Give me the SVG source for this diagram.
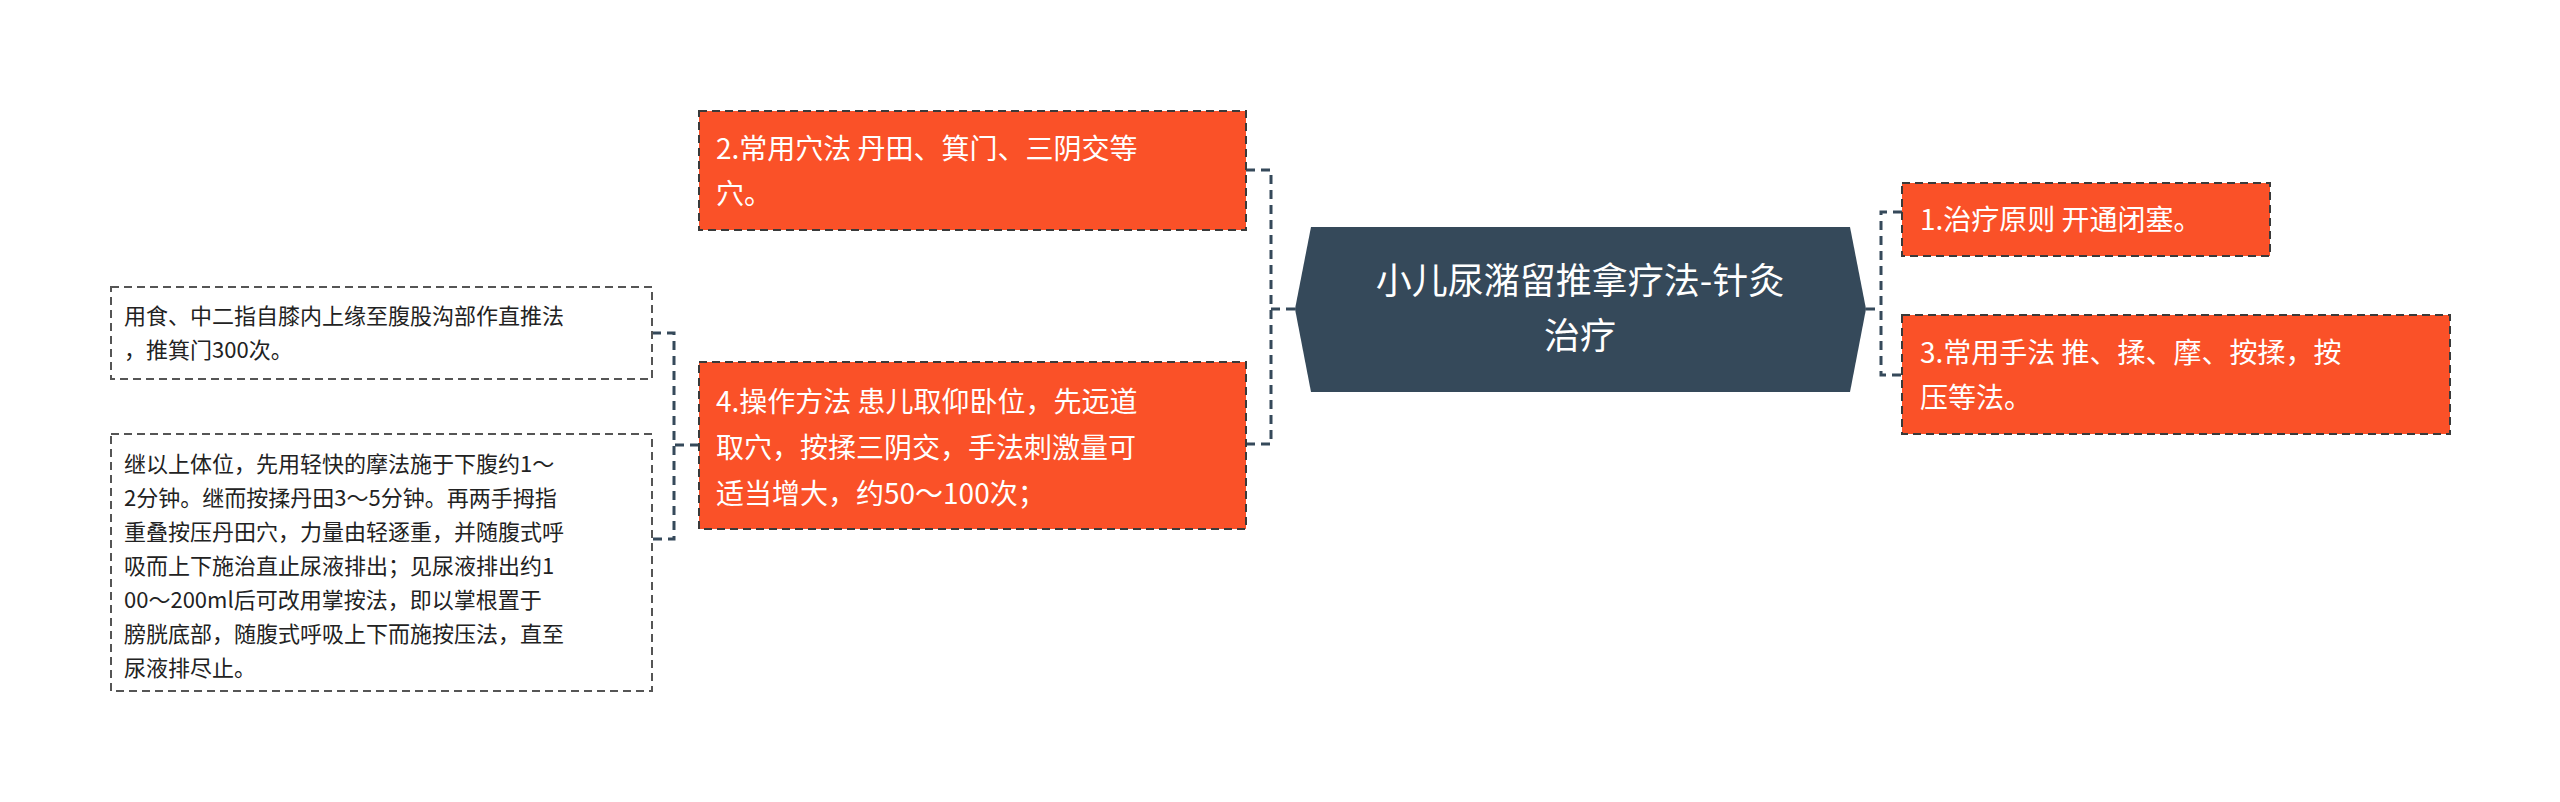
<svg xmlns="http://www.w3.org/2000/svg" width="2560" height="802" viewBox="0 0 2560 802">
<style>
text{font-family:"Noto Sans CJK SC","Noto Sans",sans-serif}
.o{fill:#FA5128;stroke:#3a3a3a;stroke-width:2;stroke-dasharray:8 5}
.ot{fill:#fff;font-size:28px}
.w{fill:#fff;stroke:#555;stroke-width:2;stroke-dasharray:8 5}
.wt{fill:#222;font-size:22px}
.c{fill:none;stroke:#35495A;stroke-width:3;stroke-dasharray:9 6}
</style>
<rect width="2560" height="802" fill="#fff"/>
<g id="connectors">
<path class="c" d="M1295 309H1271M1246 170H1271V444H1246"/>
<path class="c" d="M1866 309H1881M1902 212H1881V375H1902"/>
<path class="c" d="M699 445H674M652 333H674V539H652"/>
</g>
<g id="center">
<polygon points="1295,309 1311,227 1850,227 1866,309 1850,392 1311,392" fill="#35495A"/>
<text x="1580" y="294" text-anchor="middle" fill="#fff" font-size="36">小儿尿潴留推拿疗法-针灸</text>
<text x="1580" y="349" text-anchor="middle" fill="#fff" font-size="36">治疗</text>
</g>
<g id="n1"><rect class="o" x="1902" y="183" width="368" height="73"/>
<text class="ot" x="1920" y="230">1.治疗原则 开通闭塞。</text></g>
<g id="n3"><rect class="o" x="1902" y="315" width="548" height="119"/>
<text class="ot" x="1920" y="363">3.常用手法 推、揉、摩、按揉，按</text>
<text class="ot" x="1920" y="408">压等法。</text></g>
<g id="n2"><rect class="o" x="699" y="111" width="547" height="119"/>
<text class="ot" x="716" y="159">2.常用穴法 丹田、箕门、三阴交等</text>
<text class="ot" x="716" y="204">穴。</text></g>
<g id="n4"><rect class="o" x="699" y="362" width="547" height="167"/>
<text class="ot" x="716" y="412">4.操作方法 患儿取仰卧位，先远道</text>
<text class="ot" x="716" y="458">取穴，按揉三阴交，手法刺激量可</text>
<text class="ot" x="716" y="504">适当增大，约50～100次；</text></g>
<g id="l1"><rect class="w" x="111" y="287" width="541" height="92"/>
<text class="wt" x="124" y="324">用食、中二指自膝内上缘至腹股沟部作直推法</text>
<text class="wt" x="124" y="358">，推箕门300次。</text></g>
<g id="l2"><rect class="w" x="111" y="434" width="541" height="257"/>
<text class="wt" x="124" y="472">继以上体位，先用轻快的摩法施于下腹约1～</text>
<text class="wt" x="124" y="506">2分钟。继而按揉丹田3～5分钟。再两手拇指</text>
<text class="wt" x="124" y="540">重叠按压丹田穴，力量由轻逐重，并随腹式呼</text>
<text class="wt" x="124" y="574">吸而上下施治直止尿液排出；见尿液排出约1</text>
<text class="wt" x="124" y="608">00～200ml后可改用掌按法，即以掌根置于</text>
<text class="wt" x="124" y="642">膀胱底部，随腹式呼吸上下而施按压法，直至</text>
<text class="wt" x="124" y="676">尿液排尽止。</text></g>
</svg>
